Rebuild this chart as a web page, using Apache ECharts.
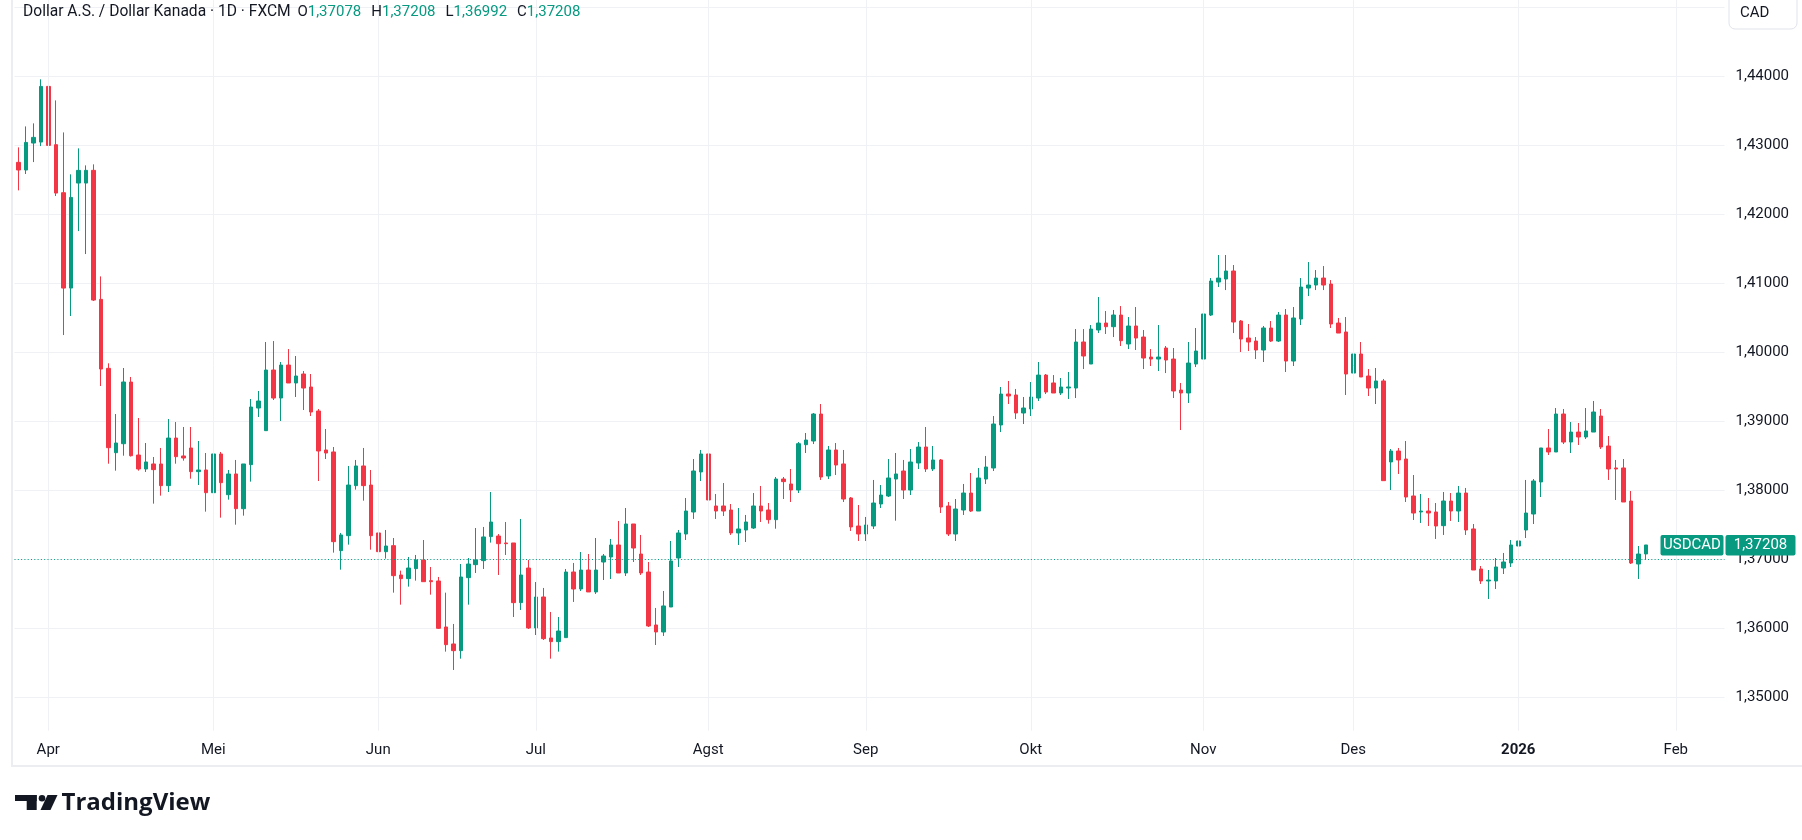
<!DOCTYPE html>
<html><head><meta charset="utf-8">
<script src="https://cdn.jsdelivr.net/npm/echarts@6/dist/echarts.min.js"></script>
<style>html,body{margin:0;padding:0;background:#fff;}#c{width:1802px;height:840px;}</style>
</head><body><div id="c"></div>
<script>
const opens = [
1.42754,1.42643,1.43034,1.43048,1.43855,1.43010,1.42314,1.40932,1.42454,1.42454,
1.42638,1.40768,1.39768,1.38546,1.38676,1.39570,1.38512,1.38309,1.38382,1.38382,
1.38068,1.38758,1.38498,1.38614,1.38271,1.38295,1.37966,1.38527,1.37937,1.38237,
1.37734,1.38372,1.39193,1.38865,1.39744,1.39338,1.39816,1.39556,1.39686,1.39498,
1.39150,1.38585,1.38556,1.37126,1.37343,1.38068,1.38353,1.38077,1.37382,1.37111,
1.37198,1.36773,1.36720,1.36865,1.36990,1.36691,1.36686,1.36019,1.35773,1.35676,
1.36734,1.36923,1.36981,1.37329,1.37338,1.37237,1.37237,1.36372,1.36874,1.36005,
1.36454,1.35860,1.35807,1.35865,1.36816,1.36570,1.36845,1.36527,1.36961,1.37034,
1.37208,1.36802,1.37512,1.37077,1.36816,1.36048,1.35947,1.36309,1.37019,1.37367,
1.37686,1.38266,1.38527,1.37773,1.37773,1.37715,1.37382,1.37425,1.37454,1.37773,
1.37715,1.37575,1.38164,1.38092,1.38005,1.38662,1.38715,1.39106,1.38208,1.38585,
1.38382,1.37889,1.37483,1.37367,1.37483,1.37802,1.37918,1.38164,1.38280,1.38005,
1.38396,1.38628,1.38309,1.38440,1.37773,1.37367,1.37715,1.37961,1.37700,1.38164,
1.38324,1.38947,1.39396,1.39382,1.39121,1.39179,1.39338,1.39671,1.39556,1.39411,
1.39483,1.39483,1.40150,1.39831,1.40324,1.40425,1.40372,1.40541,1.40121,1.40382,
1.40222,1.39932,1.39903,1.40063,1.39903,1.39454,1.39411,1.39831,1.39903,1.40541,
1.41019,1.41063,1.41179,1.40454,1.40208,1.40164,1.40034,1.40353,1.40164,1.40541,
1.39874,1.40483,1.40932,1.40976,1.41077,1.40990,1.40425,1.40295,1.39700,1.39976,
1.39657,1.39483,1.39585,1.38411,1.38570,1.38454,1.37918,1.37686,1.37700,1.37686,
1.37488,1.37845,1.37700,1.37961,1.37440,1.36860,1.36686,1.36686,1.36874,1.36947,
1.37193,1.37425,1.37657,1.38121,1.38614,1.38556,1.39106,1.38700,1.38845,1.38773,
1.38845,1.39077,1.38643,1.38324,1.38324,1.37845,1.36932,1.37078];
const highs = [
1.42971,1.43275,1.43319,1.43957,1.44145,1.43652,1.43188,1.42580,1.42957,1.42710,
1.42725,1.41101,1.39841,1.39106,1.39773,1.39643,1.39048,1.38686,1.38483,1.38614,
1.39034,1.38990,1.38918,1.38918,1.38715,1.38541,1.38614,1.38556,1.38295,1.38440,
1.38382,1.39324,1.39440,1.40150,1.40164,1.39860,1.40048,1.39947,1.39729,1.39686,
1.39179,1.38889,1.38628,1.37382,1.38353,1.38440,1.38614,1.38295,1.37382,1.37425,
1.37309,1.36836,1.37034,1.37063,1.37280,1.36889,1.36744,1.36517,1.36063,1.36932,
1.37019,1.37454,1.37469,1.37976,1.37367,1.37541,1.37237,1.37585,1.36990,1.36671,
1.36585,1.36237,1.36164,1.36860,1.36947,1.37106,1.37077,1.37309,1.37077,1.37295,
1.37556,1.37744,1.37512,1.37353,1.36961,1.36295,1.36541,1.37266,1.37425,1.37889,
1.38454,1.38585,1.38787,1.37947,1.38106,1.37802,1.37744,1.37643,1.37961,1.38063,
1.37816,1.38193,1.38193,1.38309,1.38700,1.38831,1.39121,1.39251,1.38643,1.38686,
1.38585,1.37903,1.37787,1.37614,1.38150,1.38077,1.38454,1.38541,1.38440,1.38599,
1.38700,1.38918,1.38643,1.38454,1.37831,1.37874,1.38092,1.38251,1.38324,1.38498,
1.39077,1.39498,1.39585,1.39469,1.39353,1.39570,1.39860,1.39686,1.39671,1.39628,
1.39715,1.40338,1.40338,1.40396,1.40802,1.40599,1.40614,1.40671,1.40512,1.40657,
1.40324,1.40048,1.40396,1.40092,1.40063,1.39556,1.40150,1.40353,1.40758,1.41077,
1.41411,1.41411,1.41266,1.40469,1.40411,1.40222,1.40382,1.40454,1.40585,1.40628,
1.40657,1.41077,1.41309,1.41193,1.41251,1.41048,1.40498,1.40512,1.40019,1.40150,
1.39758,1.39773,1.39614,1.38599,1.38614,1.38715,1.38222,1.37947,1.37889,1.37816,
1.37976,1.37961,1.38063,1.38034,1.37512,1.36903,1.36845,1.37019,1.37092,1.37280,
1.37483,1.38150,1.38164,1.38614,1.38889,1.39193,1.39179,1.38990,1.38976,1.39193,
1.39295,1.39179,1.38787,1.38440,1.38454,1.37990,1.37193,1.37208];
const lows = [
1.42348,1.42585,1.42758,1.42990,1.42976,1.42266,1.40251,1.40527,1.41758,1.41425,
1.40744,1.39512,1.38386,1.38285,1.38502,1.38490,1.38285,1.38266,1.37807,1.37923,
1.37976,1.38386,1.38430,1.38169,1.38077,1.37691,1.37836,1.37604,1.37865,1.37502,
1.37633,1.38126,1.39063,1.38865,1.39309,1.39005,1.39556,1.39353,1.39164,1.39077,
1.38135,1.38454,1.37097,1.36850,1.37213,1.38010,1.37850,1.37140,1.36734,1.37010,
1.36517,1.36343,1.36604,1.36691,1.36676,1.36488,1.35990,1.35662,1.35396,1.35560,
1.36343,1.36802,1.36860,1.37242,1.36773,1.37063,1.36164,1.36266,1.35990,1.35903,
1.35831,1.35560,1.35662,1.35865,1.36382,1.36541,1.36527,1.36498,1.36700,1.36715,
1.36802,1.36758,1.36961,1.36773,1.36019,1.35758,1.35889,1.36309,1.36889,1.37280,
1.37585,1.38135,1.37628,1.37585,1.37628,1.37353,1.37208,1.37251,1.37440,1.37541,
1.37517,1.37444,1.37874,1.37831,1.37961,1.38541,1.38671,1.38150,1.38164,1.38222,
1.37831,1.37411,1.37266,1.37266,1.37440,1.37744,1.37903,1.37560,1.37874,1.37932,
1.38309,1.38266,1.38280,1.37671,1.37338,1.37266,1.37643,1.37686,1.37700,1.38092,
1.38280,1.38845,1.39251,1.39034,1.38961,1.39077,1.39295,1.39396,1.39411,1.39382,
1.39324,1.39338,1.39758,1.39831,1.40280,1.40266,1.40222,1.40092,1.40048,1.40034,
1.39758,1.39802,1.39729,1.39700,1.39338,1.38874,1.39266,1.39787,1.39903,1.40527,
1.40947,1.40903,1.40280,1.40005,1.40019,1.39903,1.39860,1.40150,1.40150,1.39715,
1.39802,1.40396,1.40816,1.40903,1.40903,1.40353,1.40280,1.39382,1.39541,1.39643,
1.39367,1.39251,1.38140,1.38005,1.38237,1.37831,1.37570,1.37527,1.37483,1.37295,
1.37353,1.37556,1.37541,1.37353,1.36845,1.36643,1.36425,1.36570,1.36787,1.36889,
1.37005,1.37309,1.37512,1.37903,1.38512,1.38556,1.38671,1.38541,1.38657,1.38744,
1.38845,1.38599,1.38150,1.37860,1.37831,1.36932,1.36715,1.36992];
const closes = [
1.42643,1.43043,1.43116,1.43855,1.43000,1.42309,1.40932,1.42246,1.42638,1.42638,
1.40758,1.39758,1.38618,1.38686,1.39570,1.38502,1.38309,1.38411,1.38300,1.38068,
1.38758,1.38488,1.38469,1.38271,1.38295,1.37966,1.38527,1.38111,1.38237,1.37734,
1.38382,1.39208,1.39295,1.39744,1.39338,1.39816,1.39556,1.39657,1.39483,1.39135,
1.38570,1.38541,1.37256,1.37353,1.38077,1.38353,1.38068,1.37343,1.37111,1.37193,
1.36763,1.36720,1.36874,1.36990,1.36676,1.36676,1.36000,1.35763,1.35676,1.36744,
1.36932,1.36990,1.37324,1.37541,1.37227,1.37227,1.36372,1.36773,1.36005,1.36454,
1.35850,1.35807,1.35961,1.36816,1.36570,1.36845,1.36527,1.36845,1.37048,1.37208,
1.36802,1.37512,1.37164,1.36802,1.36034,1.35947,1.36324,1.36976,1.37382,1.37700,
1.38280,1.38527,1.37860,1.37700,1.37700,1.37382,1.37440,1.37541,1.37773,1.37700,
1.37575,1.38164,1.38126,1.38005,1.38676,1.38729,1.39106,1.38193,1.38585,1.38367,
1.37874,1.37469,1.37367,1.37498,1.37816,1.37932,1.38179,1.38237,1.38005,1.38411,
1.38628,1.38309,1.38440,1.37758,1.37367,1.37729,1.37961,1.37700,1.38179,1.38338,
1.38961,1.39396,1.39367,1.39121,1.39193,1.39353,1.39671,1.39425,1.39411,1.39498,
1.39498,1.40150,1.39947,1.40338,1.40425,1.40372,1.40541,1.40169,1.40382,1.40208,
1.39918,1.39903,1.39932,1.39889,1.39440,1.39411,1.39845,1.40019,1.40556,1.41034,
1.41077,1.41179,1.40440,1.40193,1.40150,1.40034,1.40353,1.40164,1.40541,1.39874,
1.40498,1.40947,1.40976,1.41077,1.40976,1.40411,1.40280,1.39686,1.39976,1.39643,
1.39483,1.39585,1.38140,1.38570,1.38440,1.37903,1.37671,1.37700,1.37671,1.37483,
1.37845,1.37700,1.37961,1.37425,1.36845,1.36686,1.36700,1.36889,1.36961,1.37208,
1.37266,1.37671,1.38135,1.38614,1.38556,1.39106,1.38700,1.38845,1.38773,1.38860,
1.39135,1.38628,1.38309,1.38309,1.37831,1.36947,1.37077,1.37208];

const monthNames = ['Jan','Feb','Mar','Apr','Mei','Jun','Jul','Agst','Sep','Okt','Nov','Des'];
const priceTicks = [1.35, 1.36, 1.37, 1.38, 1.39, 1.40, 1.41, 1.42, 1.43, 1.44];
const startDate = '2025-03-26';
const closedDays = ['2025-12-25', '2026-01-01'];
const SLOT_COUNT = 228;

// trading-day categories (weekdays, minus closed days), with empty slots after the last bar
const dates = [];
{
  const d = new Date(startDate + 'T00:00:00Z');
  while (dates.length < SLOT_COUNT) {
    const dow = d.getUTCDay();
    const s = d.toISOString().slice(0, 10);
    if (dow !== 0 && dow !== 6 && !closedDays.includes(s)) dates.push(s);
    d.setUTCDate(d.getUTCDate() + 1);
  }
}
const monthStarts = [];
dates.forEach((d, i) => { if (i > 0 && d.slice(5, 7) !== dates[i - 1].slice(5, 7)) monthStarts.push(i); });
const monthSet = new Set(monthStarts);
const monthLabel = i => {
  const d = dates[i]; const m = +d.slice(5, 7);
  return m === 1 ? '{y|' + d.slice(0, 4) + '}' : monthNames[m - 1];
};
const candles = opens.map((o, i) => [o, closes[i], lows[i], highs[i]]);
const fmt = v => v.toFixed(5).replace('.', ',');

const UP = '#089981', DOWN = '#f23645', GRID = '#f0f1f4', TXT = '#131722';
const FONT = 'Roboto, sans-serif';
const GL = 14.5, GW = 1710, PLOT_BOTTOM = 730.7;
const Y_TOP = 7.4, Y_H = 689.9;

const chart = echarts.init(document.getElementById('c'), null, {renderer: 'canvas'});
chart.setOption({
  animation: false,
  backgroundColor: '#ffffff',
  textStyle: {fontFamily: FONT},
  grid: [
    {left: GL, top: Y_TOP, width: GW, height: Y_H},
    {left: GL, top: 0, width: GW, height: PLOT_BOTTOM}
  ],
  xAxis: [
    {type: 'category', gridIndex: 0, data: dates, boundaryGap: true,
     axisLine: {show: false}, axisTick: {show: false}, splitLine: {show: false},
     axisLabel: {interval: (i) => monthSet.has(i), formatter: (v, i) => monthLabel(i),
       margin: 45, fontSize: 15, color: TXT, fontFamily: FONT,
       rich: {y: {fontWeight: 'bold', fontSize: 15, color: TXT, fontFamily: FONT}}}},
    {type: 'value', gridIndex: 1, min: -0.5, max: SLOT_COUNT - 0.5, show: false}
  ],
  yAxis: [
    {type: 'value', gridIndex: 0, position: 'right', min: priceTicks[0], max: 1.45, interval: 0.01,
     axisLine: {show: false}, axisTick: {show: false},
     splitLine: {lineStyle: {color: GRID, width: 1}},
     axisLabel: {margin: 11, fontSize: 15, color: TXT, fontFamily: FONT,
       formatter: v => priceTicks.some(t => Math.abs(t - v) < 1e-6) ? fmt(v) : ''}},
    {type: 'value', gridIndex: 1, min: 0, max: 1, show: false}
  ],
  series: [
    {type: 'line', xAxisIndex: 1, yAxisIndex: 1, data: [], silent: true,
     markLine: {silent: true, symbol: ['none', 'none'], label: {show: false},
       lineStyle: {color: GRID, type: 'solid', width: 1},
       emphasis: {disabled: true},
       data: monthStarts.map(i => ({xAxis: i}))}},
    {type: 'candlestick', xAxisIndex: 0, yAxisIndex: 0, data: candles, barWidth: 4,
     itemStyle: {color: UP, color0: DOWN, borderColor: UP, borderColor0: DOWN, borderWidth: 1},
     emphasis: {disabled: true},
     markLine: {silent: true, symbol: ['none', 'none'], label: {show: false},
       lineStyle: {color: UP, type: [1, 2.3], width: 1},
       emphasis: {disabled: true},
       data: [{yAxis: closes[closes.length - 1]}]}}
  ]
});

const last = closes.length - 1;
const py = chart.convertToPixel({yAxisIndex: 0}, closes[last]);
const right = GL + GW;
const white = {fill: '#fff', fontSize: 15, fontFamily: FONT};
const hdr = {fontSize: 15, fontFamily: FONT};
chart.setOption({
  graphic: [
    {type: 'polyline', silent: true, z: 50,
     shape: {points: [[12, 0], [12, 766], [1802, 766]]},
     style: {stroke: '#ebedf0', lineWidth: 2, fill: null}},
    {type: 'text', z: 60, x: 23, y: 12.5,
     style: {verticalAlign: 'middle',
       text: '{t|Dollar A.S. / Dollar Kanada · 1D · FXCM}  {k|O}{v|' + fmt(opens[last]) + '}   {k|H}{v|' + fmt(highs[last]) +
       '}   {k|L}{v|' + fmt(lows[last]) + '}   {k|C}{v|' + fmt(closes[last]) + '}',
       rich: {t: {fill: TXT, fontSize: 15.6, fontFamily: FONT}, k: Object.assign({fill: TXT}, hdr),
              v: Object.assign({fill: UP}, hdr)}}},
    {type: 'rect', z: 60, shape: {x: 1729, y: -8, width: 68, height: 37, r: 6},
     style: {fill: '#fff', stroke: '#e0e3eb', lineWidth: 1}},
    {type: 'text', z: 61, x: 1740, y: 13.5,
     style: {text: 'CAD', fontSize: 15, fill: TXT, fontFamily: FONT, verticalAlign: 'middle'}},
    {type: 'rect', z: 60, shape: {x: right - 64, y: py - 10, width: 63, height: 20.5, r: 2}, style: {fill: UP}},
    {type: 'text', z: 61, x: right - 32.5, y: py + 0.5,
     style: Object.assign({text: 'USDCAD', align: 'center', verticalAlign: 'middle'}, white)},
    {type: 'rect', z: 60, shape: {x: right + 1, y: py - 10, width: 70, height: 20.5, r: 2}, style: {fill: UP}},
    {type: 'text', z: 61, x: right + 36, y: py + 0.5,
     style: Object.assign({text: fmt(closes[last]), align: 'center', verticalAlign: 'middle'}, white)},
    // TradingView logo
    {type: 'rect', z: 60, shape: {x: 15, y: 795, width: 21.7, height: 6}, style: {fill: TXT}},
    {type: 'rect', z: 60, shape: {x: 26.7, y: 795, width: 10, height: 15}, style: {fill: TXT}},
    {type: 'circle', z: 60, shape: {cx: 42, cy: 798.2, r: 3.3}, style: {fill: TXT}},
    {type: 'polygon', z: 60, shape: {points: [[47.5, 795], [57.5, 795], [50.5, 810], [40.5, 810]]}, style: {fill: TXT}},
    {type: 'text', z: 60, x: 61.5, y: 803,
     style: {text: 'TradingView', fontSize: 24, fontWeight: 'bold', fill: TXT, fontFamily: '"Open Sans", sans-serif', verticalAlign: 'middle'}}
  ]
});
</script></body></html>
